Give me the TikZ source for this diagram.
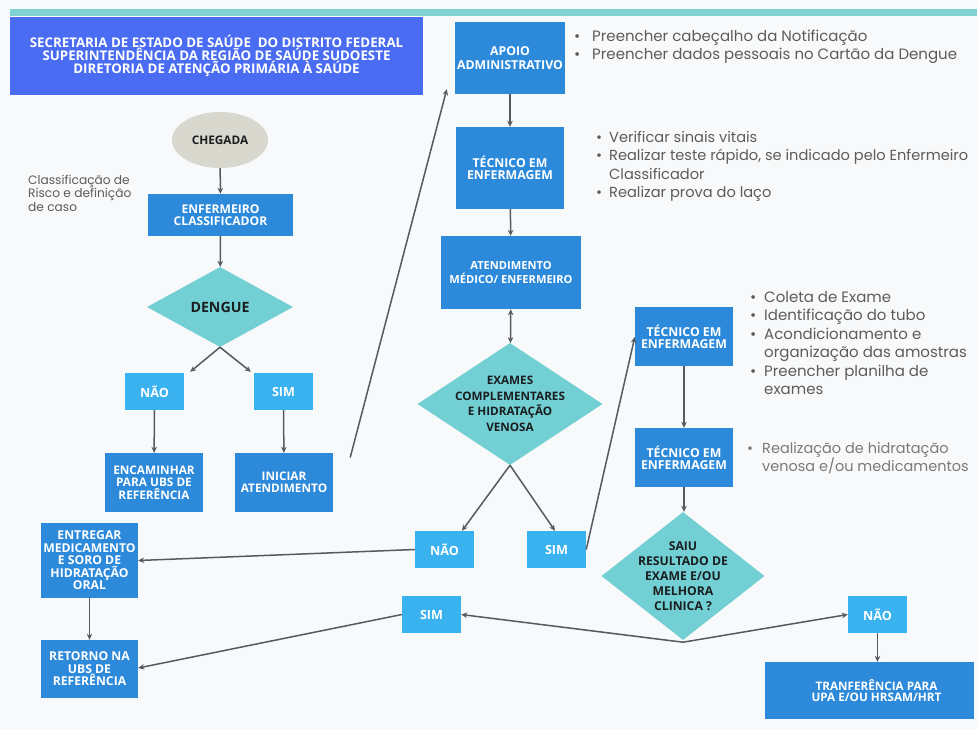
\documentclass[tikz,border=0pt]{standalone}
\usepackage{fontspec}
\setmainfont{Poppins}
\newfontfamily\boxfont{Open Sans}
\usetikzlibrary{shapes.geometric,arrows.meta,calc}
\definecolor{hdrblue}{HTML}{4A6CF2}
\definecolor{boxblue}{HTML}{2D8ADB}
\definecolor{lightblue}{HTML}{3AB2F0}
\definecolor{tealfill}{HTML}{72CFD3}
\definecolor{beige}{HTML}{D9D8CE}
\definecolor{topbar}{HTML}{80D2D2}
\definecolor{arrowgray}{HTML}{555A60}
\definecolor{bulletgray}{HTML}{5C5C5C}
\definecolor{lightgray}{HTML}{7A7A7A}
\definecolor{darktxt}{HTML}{1A1E20}
\definecolor{bg}{HTML}{F8F9FA}
\newcommand\bxsize[2]{\boxfont\bfseries\fontsize{#1}{#2}\selectfont}
\begin{document}
\begin{tikzpicture}[x=1pt,y=-1pt,
  >={Stealth[length=6pt,width=5.5pt]},
  bbox/.style={rectangle, fill=boxblue, text=white, align=center, inner sep=0pt,
    font=\bxsize{12.2}{12.5}},
  lbox/.style={rectangle, fill=lightblue, text=white, align=center, inner sep=0pt,
    minimum width=59pt, minimum height=37pt, font=\bxsize{12.6}{13}},
  dmd/.style={diamond, fill=tealfill, inner sep=0pt},
  dlbl/.style={text=darktxt, align=center, inner sep=0pt},
  conn/.style={draw=arrowgray, line width=1.5pt, ->},
  blist/.style={text=bulletgray, inner sep=0pt, anchor=base west, font=\fontsize{15}{18.5}\selectfont},
]
\useasboundingbox (0,0) rectangle (977,729);
\clip (0,0) rectangle (977,729);
\fill[bg] (0,0) rectangle (977,729);
\fill[topbar] (10,9) rectangle (977,16);

% header
\node[bbox, fill=hdrblue, minimum width=413pt, minimum height=78pt,
  font=\bxsize{13.3}{12.6}] (hdr) at (216.5,56)
  {SECRETARIA DE ESTADO DE SAÚDE\ \ DO DISTRITO FEDERAL\\SUPERINTENDÊNCIA DA REGIÃO DE SAÚDE SUDOESTE\\DIRETORIA DE ATENÇÃO PRIMÁRIA À SAÚDE};

% left column
\node[ellipse, fill=beige, minimum width=96pt, minimum height=56pt, inner sep=0pt, text=darktxt,
  font=\bxsize{11.8}{12}] (cheg) at (220,140) {CHEGADA};
\node[text=bulletgray, inner sep=0pt, anchor=base west, font=\fontsize{12.2}{13.5}\selectfont] (cls) at (28,184)
  {\begin{tabular}[t]{@{}l@{}}Classificação de\\Risco e definição\\de caso\end{tabular}};
\node[bbox, minimum width=145pt, minimum height=42pt, font=\bxsize{12.1}{11.8}] (enf) at (220.5,215) {ENFERMEIRO\\CLASSIFICADOR};
\node[dmd, minimum width=146pt, minimum height=80pt, label={[dlbl, font=\bxsize{14.2}{14}]center:DENGUE}] (deng) at (220,307) {};
\node[lbox] (nao1) at (154.5,391.5) {NÃO};
\node[lbox] (sim1) at (283.5,391.5) {SIM};
\node[bbox, minimum width=98pt, minimum height=59pt, font=\bxsize{11.8}{12.5}] (enc) at (154,482.5) {ENCAMINHAR\\PARA UBS DE\\REFERÊNCIA};
\node[bbox, minimum width=98pt, minimum height=59pt, font=\bxsize{11.8}{12.5}] (ini) at (284,482.5) {INICIAR\\ATENDIMENTO};
\node[bbox, minimum width=97pt, minimum height=75pt, font=\bxsize{12.2}{12.5}] (ent) at (89.5,560.5) {ENTREGAR\\MEDICAMENTO\\E SORO DE\\HIDRATAÇÃO\\ORAL};
\node[bbox, minimum width=97pt, minimum height=58pt, font=\bxsize{12.2}{12.5}] (ret) at (89.5,669) {RETORNO NA\\UBS DE\\REFERÊNCIA};

% middle column
\node[bbox, minimum width=110pt, minimum height=72pt, font=\bxsize{12.3}{13.5}] (apo) at (510,58) {APOIO\\ADMINISTRATIVO};
\node[bbox, minimum width=108pt, minimum height=82pt, font=\bxsize{12.3}{12.3}] (tec1) at (510,168) {TÉCNICO EM\\ENFERMAGEM};
\node[bbox, minimum width=140pt, minimum height=73pt, font=\bxsize{11.1}{13.3}] (ate) at (511,272.5) {ATENDIMENTO\\MÉDICO/ ENFERMEIRO};
\node[dmd, minimum width=185pt, minimum height=122pt,
  label={[dlbl, font=\bxsize{11.7}{15.5}]center:{EXAMES\\COMPLEMENTARES\\E HIDRATAÇÃO\\VENOSA}}] (exa) at (510,404) {};
\node[lbox] (nao2) at (444.5,549.5) {NÃO};
\node[lbox] (sim3) at (556.5,549.5) {SIM};
\node[lbox] (sim2) at (431.5,614.5) {SIM};

% right column
\node[bbox, minimum width=98pt, minimum height=59pt, font=\bxsize{12.3}{12.3}] (tec2) at (684,336.5) {TÉCNICO EM\\ENFERMAGEM};
\node[bbox, minimum width=98pt, minimum height=59pt, font=\bxsize{12.3}{12.3}] (tec3) at (684,457.5) {TÉCNICO EM\\ENFERMAGEM};
\node[dmd, minimum width=163pt, minimum height=128pt,
  label={[dlbl, font=\bxsize{12.2}{15}]center:{SAIU\\RESULTADO DE\\EXAME E/OU\\MELHORA\\CLINICA ?}}] (saiu) at (683,576) {};
\node[lbox] (nao3) at (877.5,614.5) {NÃO};
\node[bbox, minimum width=209pt, minimum height=57pt, font=\bxsize{11.7}{11.5}] (tra) at (869.5,690.5) {\hspace*{14pt}TRANFERÊNCIA PARA\\\hspace*{14pt}UPA E/OU HRSAM/HRT};

% bullet lists
\node[blist] (lapo) at (574,41) {\begin{tabular}[t]{@{}p{18pt}@{}l@{}}
  \textbullet & Preencher cabeçalho da Notificação\\
  \textbullet & Preencher dados pessoais no Cartão da Dengue\end{tabular}};
\node[blist, font=\fontsize{14.6}{18.5}\selectfont] (ltec1) at (596,142) {\begin{tabular}[t]{@{}p{13pt}@{}l@{}}
  \textbullet & Verificar sinais vitais\\
  \textbullet & Realizar teste rápido, se indicado pelo Enfermeiro\\
   & Classificador\\
  \textbullet & Realizar prova do laço\end{tabular}};
\node[blist] (ltec2) at (750,302) {\begin{tabular}[t]{@{}p{14pt}@{}l@{}}
  \textbullet & Coleta de Exame\\
  \textbullet & Identificação do tubo\\
  \textbullet & Acondicionamento e\\
   & organização das amostras\\
  \textbullet & Preencher planilha de\\
   & exames\end{tabular}};
\node[blist, text=lightgray, font=\fontsize{14.5}{17}\selectfont] (ltec3) at (747,453) {\begin{tabular}[t]{@{}p{15pt}@{}l@{}}
  \textbullet & Realização de hidratação\\
   & venosa e/ou medicamentos\end{tabular}};

% connectors
\draw[conn] (cheg) -- (enf);
\draw[conn] (enf) -- (deng);
\draw[conn] (deng.south) -- ($(nao1.north east)+(6,-1)$);
\draw[conn] (deng.south) -- ($(sim1.north west)+(-3,-1)$);
\draw[conn] (nao1) -- (enc);
\draw[conn] (sim1) -- (ini);
\coordinate (free) at ($(ini.east)+(17,-25)$);
\draw[conn] (free) -- ($(apo.south west)+(-8,-5)$);
\draw[conn] (apo) -- (tec1);
\draw[conn] (tec1) -- (ate);
\draw[conn, <->] (ate) -- (exa);
\draw[conn] (exa.south) -- ($(nao2.north)+(17.5,0)$);
\draw[conn] (exa.south) -- ($(sim3.north)+(-1.5,0)$);
\draw[conn] (sim3.east) -- ($(tec2.west)+(0,0.5)$);
\draw[conn] (tec2) -- (tec3);
\draw[conn] (tec3.south) -- (tec3.south |- saiu.north);
\draw[conn] (nao2.west) -- (ent.east);
\coordinate (junc) at ($(saiu.south)+(0,2)$);
\draw[conn] (junc) -- (sim2.east);
\draw[conn] (junc) -- (nao3.west);
\draw[conn] (sim2.west) -- ($(ret.east)+(0,-1)$);
\draw[conn] (ent) -- (ret);
\draw[conn] (nao3.south) -- (nao3.south |- tra.north);
\end{tikzpicture}
\end{document}
